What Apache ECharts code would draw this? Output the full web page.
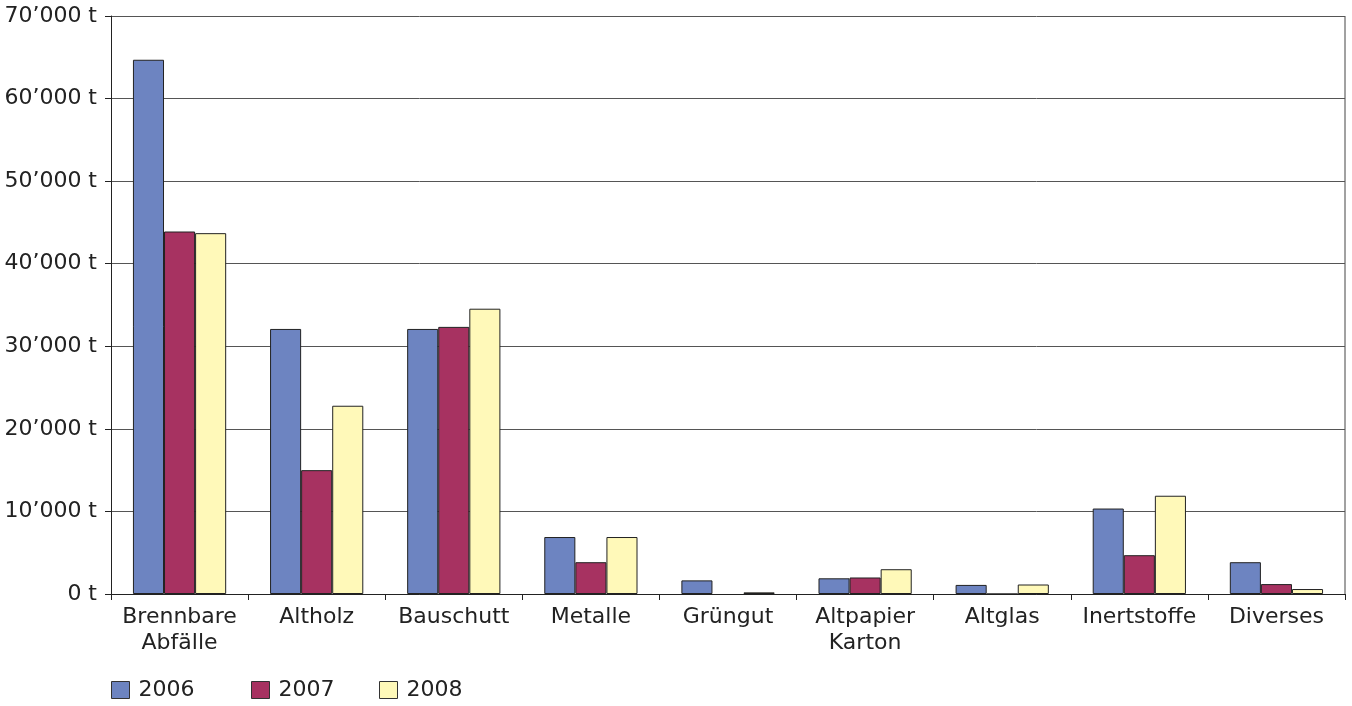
<!DOCTYPE html>
<html>
<head>
<meta charset="utf-8">
<script src="https://cdn.jsdelivr.net/npm/echarts@6/dist/echarts.min.js"></script>
<style>
  html, body { margin: 0; padding: 0; background: #fff; }
  #chart { width: 1352px; height: 706px; }
</style>
</head>
<body>
<div id="chart"></div>
<script>
const categories = ['Brennbare\nAbfälle', 'Altholz', 'Bauschutt', 'Metalle', 'Grüngut',
    'Altpapier\nKarton', 'Altglas', 'Inertstoffe', 'Diverses'];
const years = ['2006', '2007', '2008'];
const values2006 = [64700, 32100, 32100, 6900, 1650, 1900, 1100, 10350, 3850];
const values2007 = [43900, 15000, 32350, 3850, -150, 2000, 0, 4700, 1200];
const values2008 = [43700, 22800, 34550, 6900, 200, 3000, 1150, 11900, 600];
const colors = ['#6d84c1', '#a73261', '#fff9b9'];

const font = 'DejaVu Sans, Liberation Sans, sans-serif';
const legendLeft = [106, 246, 374];

function fmt(v) {
    if (v === 0) return '0 t';
    return (v / 1000) + '\u2019000 t';
}

const series = [values2006, values2007, values2008].map((d, i) => ({
    name: years[i],
    type: 'bar',
    data: d,
    barGap: '0%',
    barCategoryGap: '32%',
    itemStyle: { color: colors[i], borderColor: '#222', borderWidth: 1 },
}));

// one legend per year so the uneven spacing of the original can be kept
const legends = years.map((y, i) => ({
    left: legendLeft[i], top: 674,
    itemWidth: 18, itemHeight: 17,
    icon: 'rect',
    data: [y],
    itemStyle: { borderColor: '#333', borderWidth: 1 },
    textStyle: { fontSize: 22, color: '#222', fontFamily: font, padding: [0, 0, 0, 4] },
}));

const chart = echarts.init(document.getElementById('chart'));
chart.setOption({
    animation: false,
    textStyle: { fontFamily: font },
    grid: { left: 111, right: 7, top: 16, bottom: 112, containLabel: false },
    legend: legends,
    xAxis: {
        type: 'category',
        data: categories,
        axisLine: { lineStyle: { color: '#222', width: 1 } },
        axisTick: { show: true, alignWithLabel: false, length: 6, lineStyle: { color: '#222' } },
        axisLabel: { fontSize: 22, color: '#222', fontFamily: font, margin: 10, lineHeight: 26, interval: 0 },
    },
    yAxis: {
        type: 'value',
        min: 0, max: 70000, interval: 10000,
        axisLine: { show: true, lineStyle: { color: '#222', width: 1 } },
        axisTick: { show: true, length: 6, lineStyle: { color: '#222' } },
        axisLabel: { fontSize: 22, color: '#222', fontFamily: font, margin: 14, formatter: fmt },
        splitLine: { show: true, lineStyle: { color: '#555', width: 1 } },
    },
    series: series,
    graphic: [{
        type: 'line',
        shape: { x1: 1345, y1: 16, x2: 1345, y2: 594 },
        style: { stroke: '#444', lineWidth: 1 },
    }],
});
</script>
</body>
</html>
